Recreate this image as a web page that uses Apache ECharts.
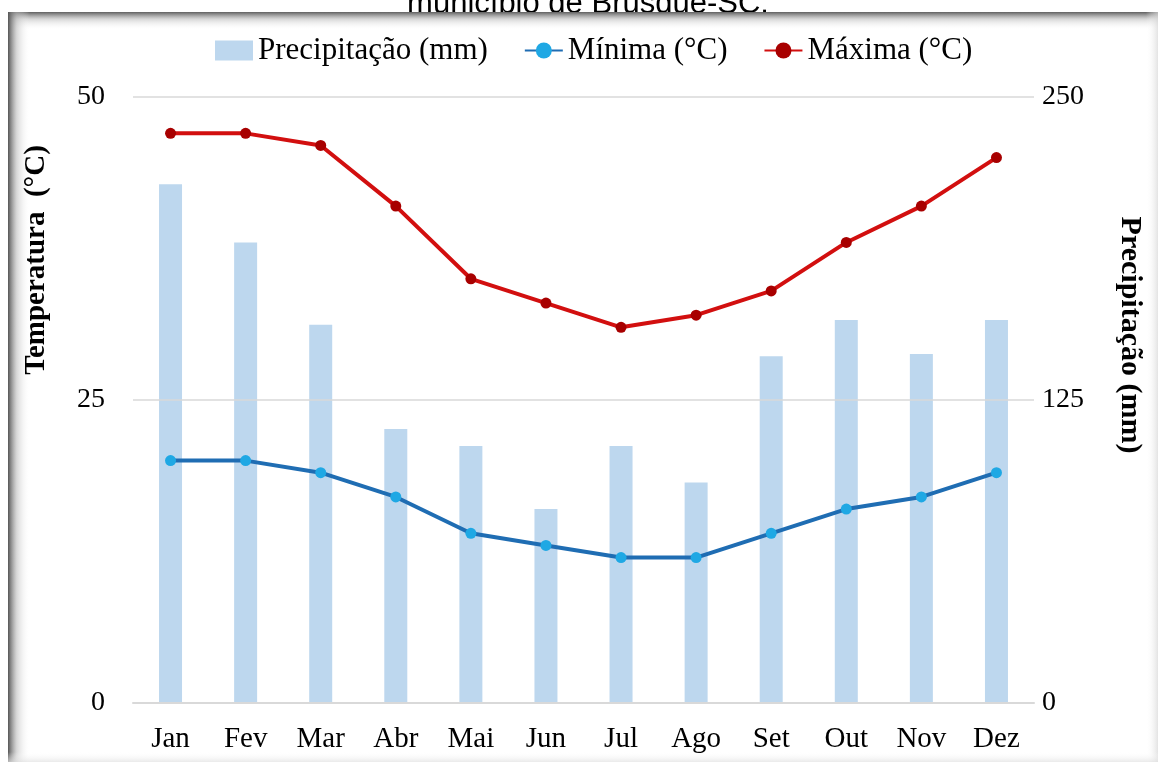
<!DOCTYPE html>
<html>
<head>
<meta charset="utf-8">
<script src="https://cdn.jsdelivr.net/npm/echarts@6/dist/echarts.min.js"></script>
<style>
html,body{margin:0;padding:0;background:#fff;}
#chart{width:1158px;height:762px;}
</style>
</head>
<body>
<div id="chart"></div>
<script>
const months = ['Jan','Fev','Mar','Abr','Mai','Jun','Jul','Ago','Set','Out','Nov','Dez'];
const precipitacao = [214, 190, 156, 113, 106, 80, 106, 91, 143, 158, 144, 158];
const minima = [20, 20, 19, 17, 14, 13, 12, 12, 14, 16, 17, 19];
const maxima = [47, 47, 46, 41, 35, 33, 31, 32, 34, 38, 41, 45];
const tempTicks = [0, 25, 50];
const precTicks = [0, 125, 250];
const titleText = 'município de Brusque-SC.';
const leftName = 'Temperatura  (°C)';
const rightName = 'Precipitação (mm)';

const serif = 'Liberation Serif, Times New Roman, serif';
const chart = echarts.init(document.getElementById('chart'));
chart.setOption({
  animation: false,
  backgroundColor: '#fff',
  graphic: [
    { type: 'text', z: 0, x: 588, y: 4, style: { text: titleText, font: '31px "Liberation Sans", Arial, sans-serif', fill: '#000', align: 'center', verticalAlign: 'middle' } },
    { type: 'rect', z: 1, shape: { x: 8, y: 12, width: 1150, height: 750 }, style: { fill: '#fff' } },
    { type: 'rect', z: 1, shape: { x: 8, y: 12, width: 1150, height: 18 }, style: { fill: new echarts.graphic.LinearGradient(0, 0, 0, 1, [{ offset: 0, color: 'rgba(95,95,95,1)' }, { offset: 0.4, color: 'rgba(190,190,190,0.6)' }, { offset: 1, color: 'rgba(255,255,255,0)' }]) } },
    { type: 'rect', z: 1, shape: { x: 8, y: 12, width: 22, height: 750 }, style: { fill: new echarts.graphic.LinearGradient(0, 0, 1, 0, [{ offset: 0, color: 'rgba(85,85,85,1)' }, { offset: 0.4, color: 'rgba(185,185,185,0.55)' }, { offset: 1, color: 'rgba(255,255,255,0)' }]) } },
    { type: 'rect', z: 1, shape: { x: 1146, y: 12, width: 12, height: 750 }, style: { fill: new echarts.graphic.LinearGradient(0, 0, 1, 0, [{ offset: 0, color: 'rgba(255,255,255,0)' }, { offset: 1, color: 'rgba(215,215,215,0.7)' }]) } },
    { type: 'rect', z: 1, shape: { x: 8, y: 752, width: 1150, height: 10 }, style: { fill: new echarts.graphic.LinearGradient(0, 0, 0, 1, [{ offset: 0, color: 'rgba(255,255,255,0)' }, { offset: 1, color: 'rgba(225,225,225,0.7)' }]) } },
    { type: 'text', z: 5, x: 37, y: 260, rotation: Math.PI / 2, style: { text: leftName, font: 'bold 29px ' + serif, fill: '#000', align: 'center', verticalAlign: 'middle' } },
    { type: 'text', z: 5, x: 1130, y: 335, rotation: -Math.PI / 2, style: { text: rightName, font: 'bold 30px ' + serif, fill: '#000', align: 'center', verticalAlign: 'middle' } }
  ],
  legend: {
    top: 30,
    left: 210,
    itemGap: 36,
    itemWidth: 38,
    itemHeight: 20,
    textStyle: { fontFamily: serif, fontSize: 31, color: '#000' },
    data: [
      { name: 'Precipitação (mm)', icon: 'rect' },
      { name: 'Mínima (°C)' },
      { name: 'Máxima (°C)' }
    ]
  },
  grid: { left: 133, right: 124, top: 97, bottom: 59, containLabel: false },
  xAxis: {
    type: 'category',
    data: months,
    z: 3,
    axisLine: { lineStyle: { color: '#d9d9d9', width: 2 } },
    axisTick: { show: false },
    axisLabel: { fontFamily: serif, fontSize: 29, color: '#000', margin: 22 }
  },
  yAxis: [
    {
      type: 'value', min: 0, max: 50, interval: 25, z: 3,
      axisLine: { show: false }, axisTick: { show: false },
      axisLabel: { fontFamily: serif, fontSize: 28, color: '#000', margin: 28, customValues: tempTicks },
      splitLine: { lineStyle: { color: '#d9d9d9', width: 1.5 } }
    },
    {
      type: 'value', min: 0, max: 250, interval: 125, z: 3,
      axisLine: { show: false }, axisTick: { show: false },
      axisLabel: { fontFamily: serif, fontSize: 28, color: '#000', margin: 8, customValues: precTicks },
      splitLine: { show: false }
    }
  ],
  series: [
    {
      name: 'Precipitação (mm)', type: 'bar', yAxisIndex: 1, data: precipitacao,
      barWidth: 23, itemStyle: { color: '#bdd7ee' }, z: 2
    },
    {
      name: 'Mínima (°C)', type: 'line', yAxisIndex: 0, data: minima,
      symbol: 'circle', symbolSize: 11,
      lineStyle: { color: '#1f6db3', width: 4 },
      itemStyle: { color: '#1fa8e4', borderWidth: 0 }, z: 4
    },
    {
      name: 'Máxima (°C)', type: 'line', yAxisIndex: 0, data: maxima,
      symbol: 'circle', symbolSize: 11,
      lineStyle: { color: '#d20f0f', width: 4 },
      itemStyle: { color: '#a80000', borderWidth: 0 }, z: 5
    }
  ]
});
</script>
</body>
</html>
